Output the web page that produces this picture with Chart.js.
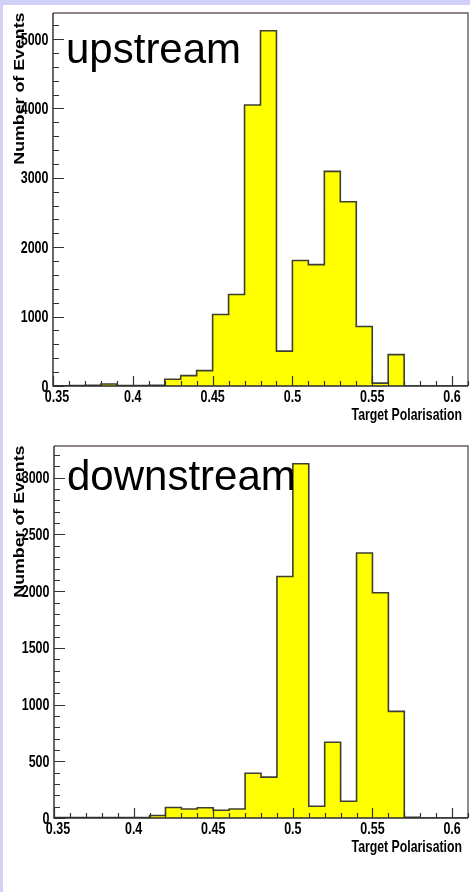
<!DOCTYPE html>
<html>
<head>
<meta charset="utf-8">
<script src="https://cdn.jsdelivr.net/npm/chart.js@4"></script>
<style>
  html, body { margin: 0; padding: 0; background: #ffffff; }
  body { width: 470px; height: 892px; position: relative; overflow: hidden; }
  .edge-top { position: absolute; left: 0; top: 0; width: 470px; height: 5px; background: #d0d0f8; }
  .edge-left { position: absolute; left: 0; top: 0; width: 3px; height: 892px; background: #d0d0f8; }
  canvas { position: absolute; left: 0; }
  #up { top: 0; }
  #down { top: 430px; }
</style>
</head>
<body>
<div class="edge-top"></div>
<div class="edge-left"></div>
<canvas id="up" width="470" height="430"></canvas>
<canvas id="down" width="470" height="462"></canvas>
<script>
// Histogram bins: lower edges (width 0.01) plus the final upper edge
const binEdges = [0.35, 0.36, 0.37, 0.38, 0.39, 0.40, 0.41, 0.42, 0.43, 0.44,
                  0.45, 0.46, 0.47, 0.48, 0.49, 0.50, 0.51, 0.52, 0.53, 0.54,
                  0.55, 0.56, 0.57, 0.58, 0.59, 0.60, 0.61];

// Event counts per bin
const upstreamCounts = [3, 5, 10, 28, 5, 8, 10, 98, 150, 222,
                        1030, 1318, 4050, 5120, 502, 1808, 1750, 3094, 2655, 858,
                        42, 452, 0, 0, 0, 0];
const downstreamCounts = [3, 3, 3, 3, 3, 5, 22, 92, 80, 90,
                          68, 80, 395, 360, 2130, 3124, 103, 668, 148, 2337,
                          1986, 940, 6, 0, 0, 0];

// Axis ticks and labels
const xMajorTicks = [0.35, 0.40, 0.45, 0.50, 0.55, 0.60];
const xTickLabels = ['0.35', '0.4', '0.45', '0.5', '0.55', '0.6'];
const upYTicks = [0, 1000, 2000, 3000, 4000, 5000];
const upYLabels = ['0', '1000', '2000', '3000', '4000', '5000'];
const downYTicks = [0, 500, 1000, 1500, 2000, 2500, 3000];
const downYLabels = ['0', '500', '1000', '1500', '2000', '2500', '3000'];

const xTitle = 'Target Polarisation';
const yTitle = 'Number of Events';

function stepPoints(counts) {
  const pts = counts.map((c, i) => ({ x: binEdges[i], y: c }));
  pts.push({ x: binEdges[binEdges.length - 1], y: counts[counts.length - 1] });
  return pts;
}

// ROOT-style frame, inward ticks, stretched bold labels and the panel caption
const rootFrame = {
  id: 'rootFrame',
  afterDatasetsDraw(chart, args, opts) {
    const { ctx, chartArea: a, scales: { x, y } } = chart;
    ctx.save();

    // frame
    ctx.lineWidth = 1.4;
    ctx.strokeStyle = '#6b5b5b';
    ctx.beginPath();
    ctx.moveTo(a.left, a.top); ctx.lineTo(a.right, a.top); ctx.lineTo(a.right, a.bottom);
    ctx.stroke();
    ctx.strokeStyle = '#2a2a2a';
    ctx.beginPath();
    ctx.moveTo(a.left, a.top); ctx.lineTo(a.left, a.bottom); ctx.lineTo(a.right, a.bottom);
    ctx.stroke();

    // x ticks (minor at every bin edge, major at labelled values)
    ctx.lineWidth = 1.2;
    ctx.strokeStyle = '#333333';
    ctx.beginPath();
    binEdges.forEach(v => {
      const px = Math.round(x.getPixelForValue(v)) + 0.5;
      const major = xMajorTicks.some(m => Math.abs(m - v) < 1e-6);
      ctx.moveTo(px, a.bottom);
      ctx.lineTo(px, a.bottom - (major ? 10 : 5));
    });
    // y ticks
    for (let v = 0; v <= y.max; v += opts.yMinor) {
      const py = Math.round(y.getPixelForValue(v)) + 0.5;
      const major = Math.abs(v % opts.yMajor) < 1e-6;
      ctx.moveTo(a.left, py);
      ctx.lineTo(a.left + (major ? 11 : 6), py);
    }
    ctx.stroke();

    // tick labels
    ctx.fillStyle = '#000000';
    ctx.font = 'bold 12.5px "Liberation Sans", Arial, sans-serif';
    xMajorTicks.forEach((v, i) => {
      let px = x.getPixelForValue(v);
      if (i === 0) px += 4;
      ctx.save();
      ctx.translate(px, a.bottom + 16);
      ctx.scale(1, 1.27);
      ctx.textAlign = 'center';
      ctx.fillText(xTickLabels[i], 0, 0);
      ctx.restore();
    });
    opts.yTicks.forEach((v, i) => {
      const py = y.getPixelForValue(v);
      ctx.save();
      ctx.translate(a.left - 4.5, py + 5.6);
      ctx.scale(1, 1.27);
      ctx.textAlign = 'right';
      ctx.fillText(opts.yLabels[i], 0, 0);
      ctx.restore();
    });

    // axis titles
    ctx.save();
    ctx.font = 'bold 12.3px "Liberation Sans", Arial, sans-serif';
    ctx.translate(a.right - 6, a.bottom + 34);
    ctx.scale(1, 1.27);
    ctx.textAlign = 'right';
    ctx.fillText(xTitle, 0, 0);
    ctx.restore();

    ctx.save();
    ctx.font = 'bold 14px "Liberation Sans", Arial, sans-serif';
    ctx.translate(23.5, a.top - 0.5);
    ctx.rotate(-Math.PI / 2);
    ctx.scale(1.27, 1);
    ctx.textAlign = 'right';
    ctx.fillText(yTitle, 0, 0);
    ctx.restore();

    // panel caption
    ctx.fillStyle = '#000000';
    ctx.font = '42px "Liberation Sans", Arial, sans-serif';
    ctx.textAlign = 'left';
    ctx.fillText(opts.caption, a.left + 13, a.top + opts.captionDrop);

    ctx.restore();
  }
};

function makeHistogram(canvasId, counts, padding, frameOpts) {
  const yMax = Math.max(...counts) * 1.05;
  return new Chart(document.getElementById(canvasId), {
    type: 'line',
    data: {
      datasets: [{
        data: stepPoints(counts),
        stepped: true,
        fill: 'origin',
        backgroundColor: '#ffff00',
        borderColor: '#3f3f30',
        borderWidth: 1.6,
        pointRadius: 0,
        tension: 0
      }]
    },
    options: {
      responsive: false,
      animation: false,
      devicePixelRatio: 1,
      layout: { padding },
      plugins: {
        legend: { display: false },
        tooltip: { enabled: false },
        rootFrame: frameOpts
      },
      scales: {
        x: { type: 'linear', min: 0.35, max: 0.61, display: false },
        y: { type: 'linear', min: 0, max: yMax, display: false }
      }
    },
    plugins: [rootFrame]
  });
}

makeHistogram('up', upstreamCounts,
  { left: 53, top: 13, right: 2, bottom: 44 },
  { yTicks: upYTicks, yLabels: upYLabels, yMajor: 1000, yMinor: 200,
    caption: 'upstream', captionDrop: 50 });

makeHistogram('down', downstreamCounts,
  { left: 54, top: 16, right: 2, bottom: 74 },
  { yTicks: downYTicks, yLabels: downYLabels, yMajor: 500, yMinor: 100,
    caption: 'downstream', captionDrop: 44 });
</script>
</body>
</html>
